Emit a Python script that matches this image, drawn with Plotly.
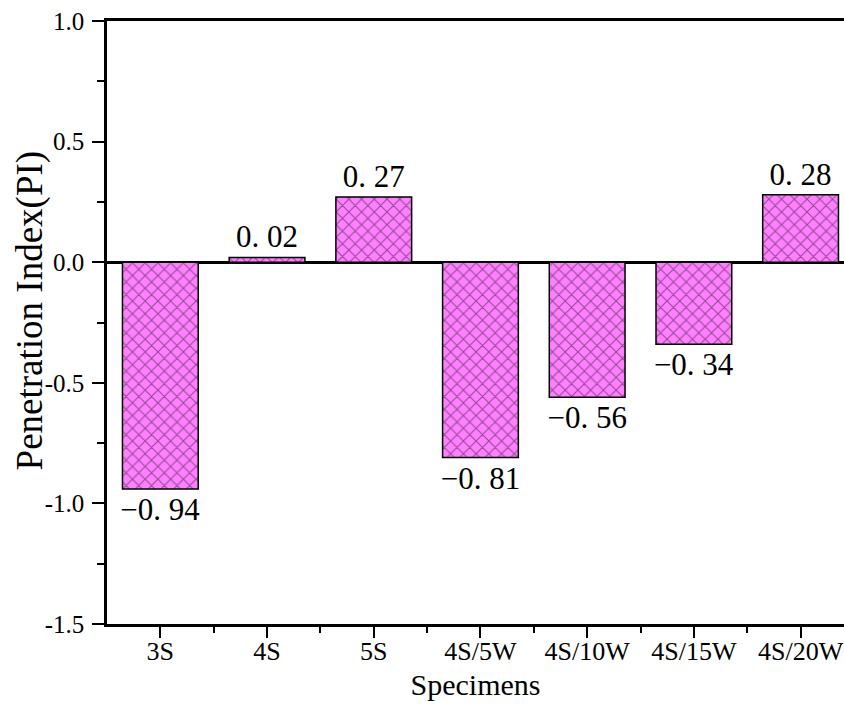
import plotly.graph_objects as go

categories = ["3S", "4S", "5S", "4S/5W", "4S/10W", "4S/15W", "4S/20W"]
pi_values = [-0.94, 0.02, 0.27, -0.81, -0.56, -0.34, 0.28]
y_tick_vals = [-1.5, -1.0, -0.5, 0.0, 0.5, 1.0]
y_tick_text = ["-1.5", "-1.0", "-0.5", "0.0", "0.5", "1.0"]
y_title = "Penetration Index(PI)"


def fmt(v):
    s = f"{abs(v):.2f}".replace(".", ". ")
    return ("\u2212" if v < 0 else "") + s


x_pos = list(range(len(categories)))
serif = "Liberation Serif"

fig = go.Figure(
    go.Bar(
        x=x_pos,
        y=pi_values,
        width=0.71,
        text=[fmt(v) for v in pi_values],
        textposition="outside",
        textfont=dict(family=serif, size=31, color="black"),
        constraintext="none",
        cliponaxis=False,
        marker=dict(
            color="#FF80FF",
            line=dict(color="black", width=1.5),
            pattern=dict(shape="x", size=9, solidity=0.22, fgcolor="#2a102a",
                         bgcolor="#FF80FF", fillmode="overlay"),
        ),
    )
)

fig.update_layout(
    width=844,
    height=706,
    margin=dict(l=107, r=0, t=21, b=82),
    plot_bgcolor="white",
    paper_bgcolor="white",
    showlegend=False,
    font=dict(family=serif, color="black"),
)

fig.update_xaxes(
    range=[-0.5, 6.407],
    tickvals=x_pos,
    ticktext=categories,
    tickfont=dict(family=serif, size=26),
    ticks="outside",
    ticklen=11,
    tickwidth=2,
    tickcolor="black",
    ticklabelstandoff=-9,
    showline=True,
    linecolor="black",
    linewidth=2.5,
    mirror=True,
    showgrid=False,
    zeroline=False,
    minor=dict(tickvals=[0.5, 1.5, 2.5, 3.5, 4.5, 5.5], ticks="outside",
               ticklen=6, tickwidth=2, tickcolor="black"),
    title=dict(text="Specimens", font=dict(family=serif, size=30), standoff=10),
)

fig.update_yaxes(
    range=[-1.5, 1.0],
    tickvals=y_tick_vals,
    ticktext=y_tick_text,
    tickfont=dict(family=serif, size=25),
    ticks="outside",
    ticklen=12,
    tickwidth=2,
    tickcolor="black",
    ticklabelstandoff=3,
    showline=True,
    linecolor="black",
    linewidth=2.5,
    showgrid=False,
    zeroline=True,
    zerolinecolor="black",
    zerolinewidth=2.5,
    minor=dict(tickvals=[-1.25, -0.75, -0.25, 0.25, 0.75], ticks="outside",
               ticklen=7, tickwidth=2, tickcolor="black"),
)

fig.add_annotation(
    text=y_title,
    xref="paper", yref="paper",
    x=-0.1045, y=0.52,
    xanchor="center", yanchor="middle",
    textangle=-90,
    showarrow=False,
    font=dict(family=serif, size=37, color="black"),
)

fig.write_html("out.html")
